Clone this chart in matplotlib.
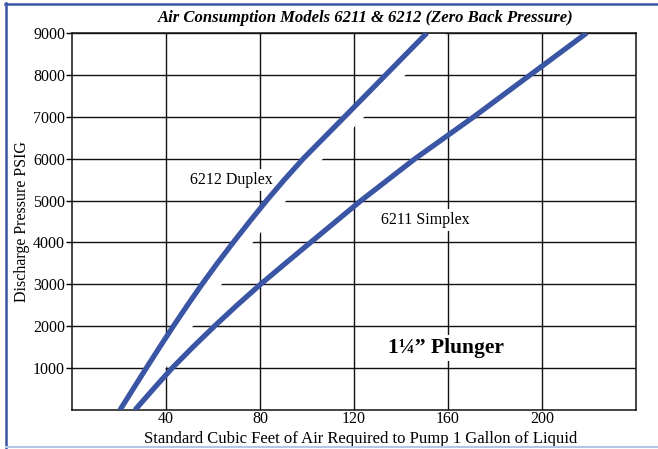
import matplotlib
matplotlib.use("Agg")
import matplotlib.pyplot as plt
from matplotlib.lines import Line2D

# Data: pressure (PSIG) vs air (SCF per gallon)
duplex_psig = [0, 500, 1000, 1500, 2000, 2500, 3000, 3500, 4000, 4500,
               5000, 5500, 6000, 7000, 8000, 9000]
duplex_scf = [20.4, 26, 31.6, 37.3, 43.1, 49.1, 55.3, 61.8, 68.6, 75.6,
              82.8, 90.4, 98.4, 116, 133.5, 151]
simplex_psig = [0, 500, 1000, 1500, 2000, 2500, 3000, 3500, 4000,
                5000, 6000, 7000, 8000, 9000]
simplex_scf = [26.8, 34.6, 42.6, 51.4, 60.6, 70.2, 80.2, 90.8, 101.5,
               123, 146, 171, 195, 219]

x_ticks = [40, 80, 120, 160, 200]
y_ticks = [1000, 2000, 3000, 4000, 5000, 6000, 7000, 8000, 9000]

BLUE = "#3b55a5"
plt.rcParams["font.family"] = ["Liberation Serif", "DejaVu Serif"]

fig = plt.figure(figsize=(6.58, 4.49), dpi=100, facecolor="white")
ax = fig.add_axes([72 / 658, 1 - 410 / 449, 564 / 658, 377 / 449])

ax.set_xlim(0, 240)
ax.set_ylim(0, 9000)
ax.set_xticks(x_ticks)
ax.set_yticks(y_ticks)
ax.tick_params(axis="x", length=0, pad=1, labelsize=11.5)
ax.tick_params(axis="y", length=4, width=1, pad=1, labelsize=11.5)
ax.grid(True, color="#111", linewidth=1.0, zorder=1)
ax.set_axisbelow(True)
for sp in ax.spines.values():
    sp.set_linewidth(1.1)
    sp.set_color("#111")

# white gap to the right of the duplex curve (grid is broken there)
ax.fill_betweenx(duplex_psig, duplex_scf, [d + 8 for d in duplex_scf],
                 color="white", linewidth=0, zorder=2)

ax.plot(duplex_scf, duplex_psig, color=BLUE, linewidth=3.8, zorder=4,
        solid_capstyle="butt", solid_joinstyle="round")
ax.plot(simplex_scf, simplex_psig, color=BLUE, linewidth=3.8, zorder=4,
        solid_capstyle="butt", solid_joinstyle="round")

box = dict(facecolor="white", edgecolor="none", pad=2)
ax.text(50, 5490, "6212 Duplex", fontsize=11.5, ha="left", va="center",
        zorder=3, bbox=box)
ax.text(131.5, 4535, "6211 Simplex", fontsize=11.5, ha="left", va="center",
        zorder=3, bbox=box)
ax.text(134.5, 1480, "1\u00bc\u201d Plunger", fontsize=15.5, fontweight="bold",
        ha="left", va="center", zorder=3, bbox=box)

ax.set_xlabel("Standard Cubic Feet of Air Required to Pump 1 Gallon of Liquid",
              fontsize=12, labelpad=0)
ax.xaxis.set_label_coords(0.512, -0.055)
ax.set_ylabel("Discharge Pressure PSIG", fontsize=11.5, labelpad=2)

fig.text(0.556, 1 - 18 / 449, "Air Consumption Models 6211 & 6212 (Zero Back Pressure)",
         fontsize=12, fontweight="bold", fontstyle="italic", ha="center", va="center")

# frame lines around the figure
fig.add_artist(Line2D([5 / 658, 1], [1 - 4 / 449, 1 - 4 / 449],
                      transform=fig.transFigure, color=BLUE, linewidth=1.8))
fig.add_artist(Line2D([6 / 658, 6 / 658], [1 - 3 / 449, 0],
                      transform=fig.transFigure, color=BLUE, linewidth=1.8))
fig.add_artist(Line2D([6 / 658, 1], [2 / 449, 2 / 449],
                      transform=fig.transFigure, color="#b3c6e6", linewidth=1.5))

fig.savefig("out.png", dpi=100)
